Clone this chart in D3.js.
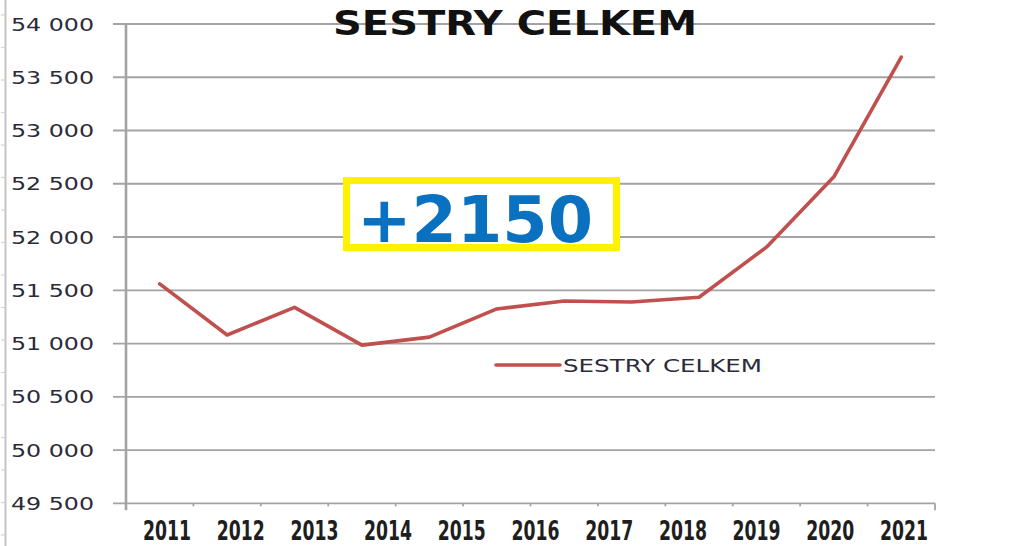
<!DOCTYPE html>
<html>
<head>
<meta charset="utf-8">
<script src="https://cdn.jsdelivr.net/npm/d3@7"></script>
<style>
  html, body { margin: 0; padding: 0; background: #fff; }
  svg { display: block; }
</style>
</head>
<body>
<svg id="chart" width="1013" height="546"></svg>
<script>
// ---- data ----
const chartTitle = "SESTRY CELKEM";
const seriesName = "SESTRY CELKEM";
const annotation = "+2150";
// twelve plotted values (the line has 12 vertices)
const pointIds = [0, 1, 2, 3, 4, 5, 6, 7, 8, 9, 10, 11];
const values = [51560, 51080, 51340, 50985, 51060, 51325, 51400, 51390, 51435, 51905, 52565, 53690];
// category labels printed under the axis
const xTickLabels = ["2011", "2012", "2013", "2014", "2015", "2016", "2017", "2018", "2019", "2020", "2021"];
const yTicks = [49500, 50000, 50500, 51000, 51500, 52000, 52500, 53000, 53500, 54000];
const yTickLabels = ["49 500", "50 000", "50 500", "51 000", "51 500", "52 000", "52 500", "53 000", "53 500", "54 000"];

// ---- layout ----
const svg = d3.select("#chart");
const plotLeft = 126, plotRight = 935, plotTop = 24, plotBottom = 503.3;

const y = d3.scaleLinear().domain([49500, 54000]).range([plotBottom, plotTop]);
const xBand = d3.scaleBand().domain(pointIds).range([plotLeft, plotRight]).paddingInner(0).paddingOuter(0);
const xLabel = d3.scalePoint().domain(xTickLabels).range([167, 904]);

// left frame edge
svg.append("line")
  .attr("x1", 5.5).attr("x2", 5.5).attr("y1", 0).attr("y2", 546)
  .attr("stroke", "#c4c4c4").attr("stroke-width", 2);
svg.append("g").selectAll("line")
  .data(d3.range(15, 546, 32.5))
  .join("line")
  .attr("x1", 1).attr("x2", 5).attr("y1", d => d).attr("y2", d => d)
  .attr("stroke", "#d4d4d4").attr("stroke-width", 1.2);

// gridlines
svg.append("g").selectAll("line")
  .data(yTicks)
  .join("line")
  .attr("x1", 113).attr("x2", plotRight)
  .attr("y1", d => y(d)).attr("y2", d => y(d))
  .attr("stroke", "#a3a3a3").attr("stroke-width", 1.8);

// y axis line
svg.append("line")
  .attr("x1", plotLeft).attr("x2", plotLeft)
  .attr("y1", plotTop).attr("y2", plotBottom + 7)
  .attr("stroke", "#a3a3a3").attr("stroke-width", 2.6);

// x axis category ticks (band boundaries)
const bounds = pointIds.map(d => xBand(d) + xBand.bandwidth());
svg.append("g").selectAll("line")
  .data(bounds)
  .join("line")
  .attr("x1", d => d).attr("x2", d => d)
  .attr("y1", plotBottom).attr("y2", (d, i) => i === bounds.length - 1 ? plotBottom + 7 : plotBottom + 3)
  .attr("stroke", "#a3a3a3").attr("stroke-width", 1.8);

// y tick labels
svg.append("g").selectAll("text")
  .data(yTicks)
  .join("text")
  .attr("x", 11).attr("y", d => y(d) + 6.5)
  .attr("font-family", "DejaVu Sans, Verdana, sans-serif")
  .attr("font-size", 17.5)
  .attr("fill", "#2b2b3a")
  .attr("textLength", 83).attr("lengthAdjust", "spacingAndGlyphs")
  .text((d, i) => yTickLabels[i]);

// x tick labels
svg.append("g").selectAll("text")
  .data(xTickLabels)
  .join("text")
  .attr("x", d => xLabel(d)).attr("y", 540)
  .attr("text-anchor", "middle")
  .attr("font-family", "DejaVu Sans Condensed, Liberation Sans Narrow, DejaVu Sans, sans-serif")
  .attr("font-weight", "bold")
  .attr("font-size", 27)
  .attr("fill", "#1e1e1e")
  .attr("textLength", 48).attr("lengthAdjust", "spacingAndGlyphs")
  .text(d => d);

// title
svg.append("text")
  .attr("x", 515).attr("y", 35)
  .attr("text-anchor", "middle")
  .attr("font-family", "DejaVu Sans, Verdana, sans-serif")
  .attr("font-weight", "bold")
  .attr("font-size", 34)
  .attr("fill", "#111")
  .attr("textLength", 364).attr("lengthAdjust", "spacingAndGlyphs")
  .text(chartTitle);

// annotation box
svg.append("rect")
  .attr("x", 346.5).attr("y", 180.5).attr("width", 270).attr("height", 67)
  .attr("fill", "#fff").attr("stroke", "#FFF100").attr("stroke-width", 7);
svg.append("text")
  .attr("x", 357).attr("y", 242)
  .attr("font-family", "DejaVu Sans, Verdana, sans-serif")
  .attr("font-weight", "bold")
  .attr("font-size", 64)
  .attr("fill", "#0A70C0")
  .attr("textLength", 236).attr("lengthAdjust", "spacingAndGlyphs")
  .text(annotation);

// series line
const line = d3.line()
  .x((d, i) => xBand(pointIds[i]) + xBand.bandwidth() / 2)
  .y(d => y(d));
svg.append("path")
  .datum(values)
  .attr("d", line)
  .attr("fill", "none")
  .attr("stroke", "#C0504D")
  .attr("stroke-width", 3.6)
  .attr("stroke-linejoin", "round")
  .attr("stroke-linecap", "round");

// legend
svg.append("line")
  .attr("x1", 496).attr("x2", 560).attr("y1", 365).attr("y2", 365)
  .attr("stroke", "#C0504D").attr("stroke-width", 3.6).attr("stroke-linecap", "round");
svg.append("text")
  .attr("x", 563).attr("y", 372)
  .attr("font-family", "DejaVu Sans, Verdana, sans-serif")
  .attr("font-size", 17.5)
  .attr("fill", "#2b2b3a")
  .attr("textLength", 199).attr("lengthAdjust", "spacingAndGlyphs")
  .text(seriesName);
</script>
</body>
</html>
